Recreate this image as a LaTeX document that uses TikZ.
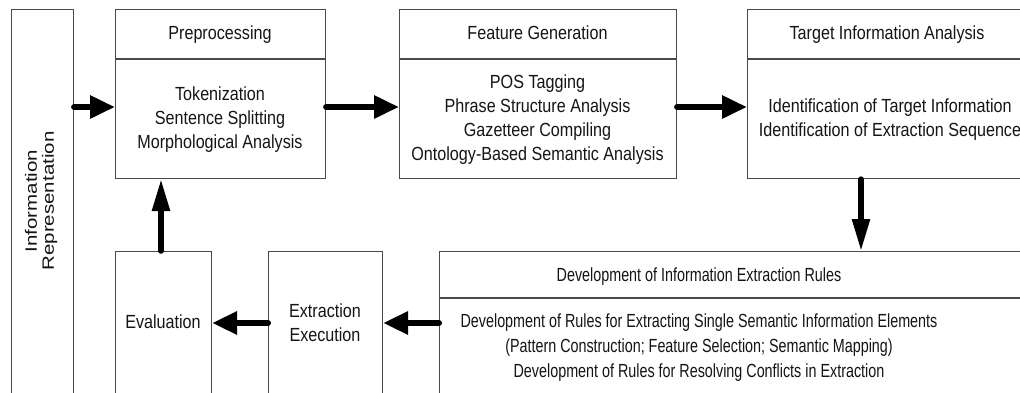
\documentclass[tikz,border=0pt]{standalone}
\usepackage{fontspec}
\usepackage{graphicx}
\setmainfont{Liberation Sans}[FakeStretch=0.85]
\newfontfamily\sidefont{Liberation Sans}
\newfontfamily\narrowfont{Liberation Sans}[FakeStretch=0.755]
\usetikzlibrary{arrows.meta}
\definecolor{boxgray}{HTML}{4A4A4A}
\definecolor{ink}{HTML}{151515}
\newcommand\stackrows[1]{\begin{tabular}[t]{@{}c@{}}#1\end{tabular}}
\tikzset{
  stagebox/.style={draw=boxgray, line width=1.1pt, anchor=north west, inner sep=0pt},
  label/.style={anchor=base, inner sep=0pt, text=ink, font=\fontsize{19}{24}\selectfont},
  narrowlabel/.style={label, font=\narrowfont\fontsize{19}{25}\selectfont},
  harrow/.style={line width=6pt, line cap=round, -{Triangle[length=25pt,width=22pt]}},
  varrow/.style={line width=5.5pt, line cap=round, -{Triangle[length=32pt,width=17pt]}}
}
\begin{document}
\begin{tikzpicture}[x=1pt,y=-1pt]
\useasboundingbox (0,0) rectangle (1020,392);
\fill[white] (0,0) rectangle (1020,392);
\clip (0,0) rectangle (1020,392);

% side panel
\node[stagebox, minimum width=62pt, minimum height=420pt] (info) at (11,9) {};
\node[anchor=center, rotate=90, inner sep=0pt, text=ink] (infotext) at (42,201)
  {\scalebox{1}[0.8]{\sidefont\fontsize{20.5}{21}\selectfont\stackrows{Information\\Representation}}};

% top row
\node[stagebox, minimum width=210pt, minimum height=169pt] (prep) at (115,9) {};
\draw[boxgray, line width=1.1pt] (prep.west |- 0,59) -- (prep.east |- 0,59);
\node[label] (preptitle) at (220,39.5) {Preprocessing};
\node[label] (prepbody) at (220,100) {\stackrows{Tokenization\\Sentence Splitting\\Morphological Analysis}};

\node[stagebox, minimum width=277pt, minimum height=169pt] (feat) at (399,9) {};
\draw[boxgray, line width=1.1pt] (feat.west |- 0,59) -- (feat.east |- 0,59);
\node[label] (feattitle) at (537.5,39.5) {Feature Generation};
\node[label] (featbody) at (537.5,88) {\stackrows{POS Tagging\\Phrase Structure Analysis\\Gazetteer Compiling\\Ontology-Based Semantic Analysis}};

\node[stagebox, minimum width=290pt, minimum height=169pt] (target) at (747,9) {};
\draw[boxgray, line width=1.1pt] (target.west |- 0,59) -- (target.east |- 0,59);
\node[label] (targettitle) at (887,39.5) {Target Information Analysis};
\node[label] (targetbody) at (890,112) {\stackrows{Identification of Target Information\\Identification of Extraction Sequence}};

% bottom row
\node[stagebox, minimum width=96pt, minimum height=170pt] (eval) at (115,251) {};
\node[label] (evaltext) at (163,328) {Evaluation};

\node[stagebox, minimum width=114pt, minimum height=170pt] (exec) at (268,251) {};
\node[label] (exectext) at (325,317) {\stackrows{Extraction\\Execution}};

\node[stagebox, minimum width=600pt, minimum height=170pt] (rules) at (439,251) {};
\draw[boxgray, line width=1.1pt] (rules.west |- 0,298) -- (rules.east |- 0,298);
\node[narrowlabel] (rulestitle) at (699,281) {Development of Information Extraction Rules};
\node[narrowlabel] (rulesbody) at (699,327) {\stackrows{Development of Rules for Extracting Single Semantic Information Elements\\(Pattern Construction; Feature Selection; Semantic Mapping)\\Development of Rules for Resolving Conflicts in Extraction}};

% flow arrows
\draw[harrow] (info.east |- 0,107) -- (prep.west |- 0,107);
\draw[harrow] (prep.east |- 0,107) -- (feat.west |- 0,107);
\draw[harrow] (feat.east |- 0,107) -- (target.west |- 0,107);
\draw[varrow] (target.south -| 861,0) -- (rules.north -| 861,0);
\draw[harrow] (rules.west |- 0,323) -- (exec.east |- 0,323);
\draw[harrow] (exec.west |- 0,323) -- (eval.east |- 0,323);
\draw[varrow] (eval.north -| 161,0) -- (prep.south -| 161,0);
\end{tikzpicture}
\end{document}
